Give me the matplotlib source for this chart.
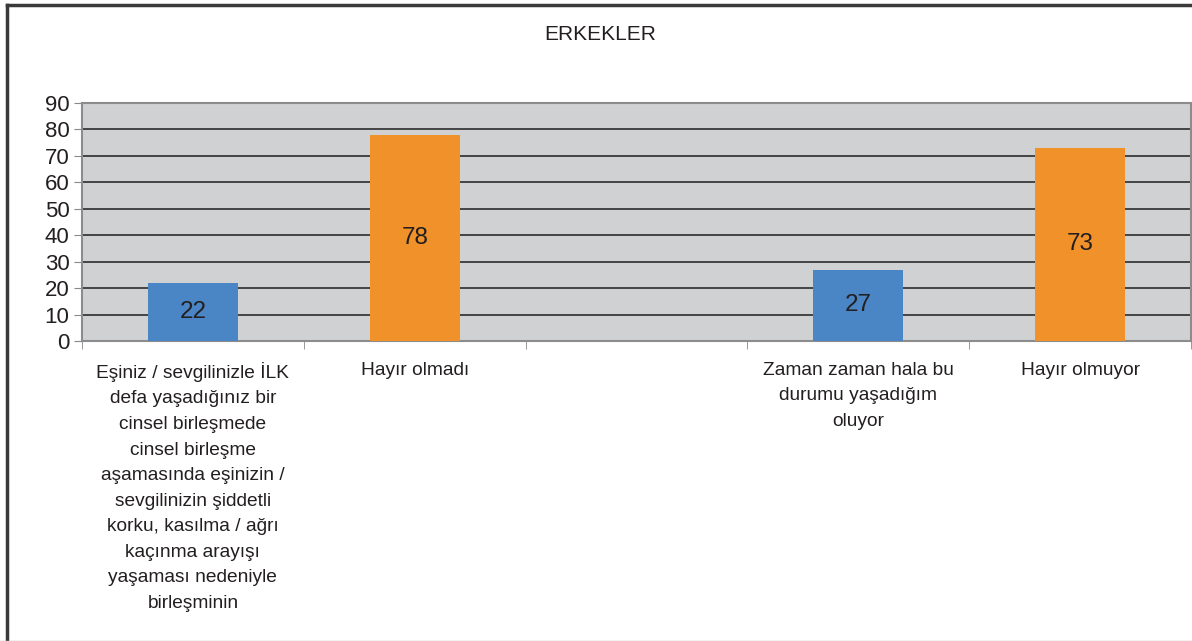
import matplotlib.pyplot as plt
import numpy as np
from matplotlib.lines import Line2D

plt.rcParams['font.family'] = ['Liberation Sans', 'DejaVu Sans']

title = 'ERKEKLER'
categories = [
    'Eşiniz / sevgilinizle İLK\ndefa yaşadığınız bir\ncinsel birleşmede\ncinsel birleşme\naşamasında eşinizin /\nsevgilinizin şiddetli\nkorku, kasılma / ağrı\nkaçınma arayışı\nyaşaması nedeniyle\nbirleşminin',
    'Hayır olmadı',
    '',
    'Zaman zaman hala bu\ndurumu yaşadığım\noluyor',
    'Hayır olmuyor',
]
values = [22, 78, np.nan, 27, 73]
colors = ['#4A86C6', '#F0912A', '#4A86C6', '#4A86C6', '#F0912A']
yticks = [0, 10, 20, 30, 40, 50, 60, 70, 80, 90]

W, H = 1192, 641
fig = plt.figure(figsize=(W / 100, H / 100), dpi=100)
ax = fig.add_axes([82 / W, 1 - 341 / H, (1191 - 82) / W, (341 - 103) / H])
ax.set_facecolor('#D0D1D3')

x = np.arange(len(categories))
ax.bar(x, values, width=0.405, color=colors, zorder=3)
for xi, v in zip(x, values):
    if not np.isnan(v):
        ax.text(xi, v / 2, f'{v:.0f}', ha='center', va='center', fontsize=17.5,
                color='#231F20', zorder=4)

ax.set_xlim(-0.5, len(categories) - 0.5)
ax.set_ylim(0, 90)
ax.set_yticks(yticks)
ax.tick_params(axis='y', labelsize=16, length=6, color='#888888', pad=3,
               labelcolor='#231F20')
ax.yaxis.grid(True, color='#1E1E1E', linewidth=1.1, zorder=1)
ax.set_axisbelow(True)

ax.set_xticks(x)
ax.set_xticklabels(categories, fontsize=13.8, color='#231F20', linespacing=1.66,
                   va='top')
ax.tick_params(axis='x', which='major', length=0, pad=15)
ax.set_xticks(np.arange(len(categories) + 1) - 0.5, minor=True)
ax.tick_params(axis='x', which='minor', length=6, color='#888888')

for side in ['left', 'top', 'right', 'bottom']:
    ax.spines[side].set_color('#8C8C8C')
    ax.spines[side].set_linewidth(1.5)

fig.text(600 / W, 1 - 34 / H, title, ha='center', va='center', fontsize=15,
         color='#231F20')

# outer chart frame
fig.add_artist(Line2D([7 / W, 1], [1 - 4.5 / H, 1 - 4.5 / H], color='#3A3A3A', linewidth=2.5,
                      transform=fig.transFigure))
fig.add_artist(Line2D([7 / W, 7 / W], [0, 1 - 4.5 / H], color='#3A3A3A', linewidth=2.5,
                      transform=fig.transFigure))
fig.add_artist(Line2D([0, 1], [0.5 / H, 0.5 / H], color='#BBBBBB', linewidth=1,
                      transform=fig.transFigure))

fig.savefig('out.png', dpi=100)
